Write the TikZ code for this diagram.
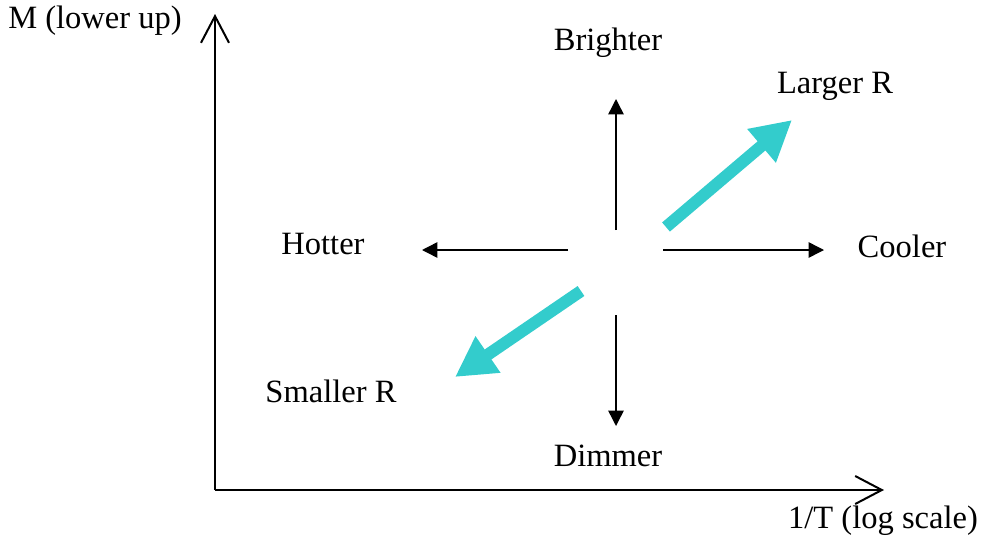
\documentclass[tikz,border=0pt]{standalone}
\usepackage{fontspec}
\setmainfont{Liberation Serif}
\usetikzlibrary{arrows.meta}
\definecolor{cyanarrow}{RGB}{51,204,204}
\begin{document}
\begin{tikzpicture}[x=0.75pt,y=-0.75pt,
  lbl/.style={inner sep=0pt,font=\fontsize{24.4}{28}\selectfont},
  axisline/.style={line width=1.5pt,-{Straight Barb[length=20pt,width=21pt,line width=1.5pt]}},
  thinarrow/.style={line width=1.1pt,-{Triangle[length=11.5pt,width=11.5pt]}},
  fatarrow/.style={draw=cyanarrow,line width=9pt,-{Triangle[length=30pt,width=31pt]}}]
\useasboundingbox (0,0) rectangle (984,543);
% axes
\coordinate (O) at (215,490);
\coordinate (Ytip) at (215,14);
\coordinate (Xtip) at (884,490);
\draw[axisline] (O) -- (Ytip);
\draw[axisline] (O) -- (Xtip);
% thin arrows
\coordinate (bs) at (616,230); \coordinate (be) at (616,99);
\coordinate (ds) at (616,315); \coordinate (de) at (616,426);
\coordinate (hs) at (568,250); \coordinate (he) at (422,250);
\coordinate (cs) at (663,250); \coordinate (ce) at (824,250);
\draw[thinarrow] (bs) -- (be);
\draw[thinarrow] (ds) -- (de);
\draw[thinarrow] (hs) -- (he);
\draw[thinarrow] (cs) -- (ce);
% thick cyan arrows
\coordinate (ls) at (666,227); \coordinate (le) at (792,120);
\coordinate (ss) at (581,291); \coordinate (se) at (455,377);
\draw[fatarrow] (ls) -- (le);
\draw[fatarrow] (ss) -- (se);
% labels
\node[lbl] (m) at (95,21) {M (lower up)};
\node[lbl] (b) at (608,43) {Brighter};
\node[lbl] (l) at (835,86) {Larger R};
\node[lbl] (h) at (323,244) {Hotter};
\node[lbl] (c) at (902,246) {Cooler};
\node[lbl] (s) at (331,391) {Smaller R};
\node[lbl] (d) at (608,456) {Dimmer};
\node[lbl] (t) at (883,521) {1/T (log scale)};
\end{tikzpicture}
\end{document}
